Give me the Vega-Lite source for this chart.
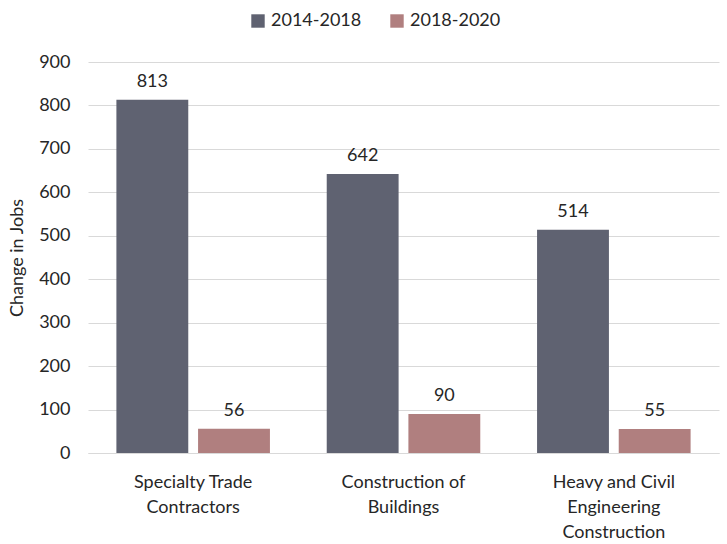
{
  "$schema": "https://vega.github.io/schema/vega-lite/v6.json",
  "width": 727,
  "height": 544,
  "autosize": {"type": "fit", "contains": "padding"},
  "padding": {"left": 8, "right": 8, "top": 53, "bottom": 3},
  "config": {
    "font": "Lato",
    "view": {"stroke": null},
    "axis": {"labelFont": "Lato", "titleFont": "Lato"}
  },
  "data": {
    "values": [
      {"sector": "Specialty Trade Contractors", "period": "2014-2018", "jobs": 813},
      {"sector": "Specialty Trade Contractors", "period": "2018-2020", "jobs": 56},
      {"sector": "Construction of Buildings", "period": "2014-2018", "jobs": 642},
      {"sector": "Construction of Buildings", "period": "2018-2020", "jobs": 90},
      {"sector": "Heavy and Civil Engineering Construction", "period": "2014-2018", "jobs": 514},
      {"sector": "Heavy and Civil Engineering Construction", "period": "2018-2020", "jobs": 55}
    ]
  },
  "encoding": {
    "x": {
      "field": "sector",
      "type": "nominal",
      "sort": null,
      "scale": {"paddingInner": 0.27, "paddingOuter": 0.135},
      "axis": {
        "title": null,
        "labelAngle": 0,
        "labelFontSize": 18,
        "labelColor": "#262626",
        "labelPadding": 20,
        "labelLineHeight": 25,
        "ticks": false,
        "domain": true,
        "domainColor": "#d9d9d9",
        "labelExpr": "datum.label == 'Specialty Trade Contractors' ? ['Specialty Trade', 'Contractors'] : datum.label == 'Construction of Buildings' ? ['Construction of', 'Buildings'] : ['Heavy and Civil', 'Engineering', 'Construction']"
      }
    },
    "xOffset": {"field": "period", "type": "nominal", "scale": {"paddingInner": 0.12}},
    "y": {
      "field": "jobs",
      "type": "quantitative",
      "scale": {"domain": [0, 900]},
      "axis": {
        "title": "Change in Jobs",
        "titleFontSize": 18,
        "titleFontWeight": "normal",
        "titleColor": "#262626",
        "titlePadding": 12,
        "labelFontSize": 18,
        "labelColor": "#262626",
        "labelPadding": 18,
        "values": [0, 100, 200, 300, 400, 500, 600, 700, 800, 900],
        "ticks": false,
        "domain": false,
        "gridColor": "#d9d9d9"
      }
    },
    "color": {
      "field": "period",
      "type": "nominal",
      "scale": {"domain": ["2014-2018", "2018-2020"], "range": ["#5f6271", "#b07f7f"]},
      "legend": {
        "title": null,
        "orient": "none",
        "direction": "horizontal",
        "legendX": 161,
        "legendY": -50,
        "symbolType": "square",
        "symbolSize": 180,
        "symbolStrokeWidth": 0,
        "labelFontSize": 18,
        "labelColor": "#262626",
        "columnPadding": 26
      }
    }
  },
  "layer": [
    {"mark": {"type": "bar"}},
    {
      "mark": {"type": "text", "dy": -18, "fontSize": 18, "color": "#262626"},
      "encoding": {"text": {"field": "jobs", "type": "quantitative"}, "color": {"value": "#262626"}}
    }
  ]
}
